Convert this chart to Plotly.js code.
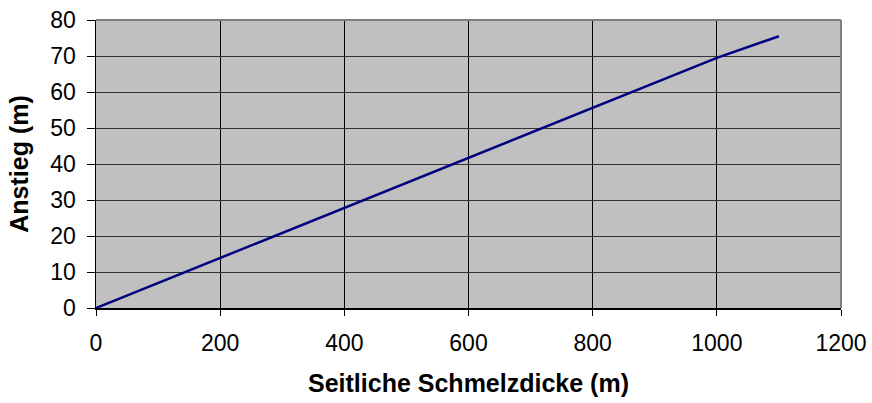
<!DOCTYPE html>
<html>
<head>
<meta charset="utf-8">
<script src="https://cdn.plot.ly/plotly-3.0.1.min.js"></script>
<style>
  html, body { margin: 0; padding: 0; background: #ffffff; }
  #chart { width: 872px; height: 403px; }
</style>
</head>
<body>
<div id="chart"></div>
<script>
// Lateral melt thickness (m) against rise (m)
const meltThickness = [0, 200, 400, 600, 800, 1000, 1100];
const rise = [0, 13.9, 27.9, 41.8, 55.6, 69.5, 75.5];

const xTickValues = [0, 200, 400, 600, 800, 1000, 1200];
const yTickValues = [0, 10, 20, 30, 40, 50, 60, 70, 80];

const font = 'Arial, "Liberation Sans", sans-serif';

const trace = {
  x: meltThickness,
  y: rise,
  type: 'scatter',
  mode: 'lines',
  line: { color: '#000080', width: 2.5 },
  hoverinfo: 'x+y'
};

const layout = {
  width: 872,
  height: 403,
  margin: { l: 96, r: 31, t: 20, b: 95 },
  paper_bgcolor: '#ffffff',
  plot_bgcolor: '#c0c0c0',
  showlegend: false,
  font: { family: font, color: '#000000', size: 23 },
  xaxis: {
    range: [0, 1200],
    tickvals: xTickValues,
    ticktext: xTickValues.map(String),
    ticks: 'outside',
    ticklen: 6,
    tickcolor: '#000000',
    tickwidth: 1,
    ticklabelstandoff: 8,
    showline: true,
    linecolor: '#000000',
    linewidth: 1.5,
    showgrid: true,
    gridcolor: '#000000',
    gridwidth: 1,
    zeroline: false,
    tickfont: { family: font, size: 23, color: '#000000' },
    title: {
      text: '<b>Seitliche Schmelzdicke (m)</b>',
      font: { family: font, size: 25, color: '#000000' },
      standoff: 19
    },
    automargin: false,
    fixedrange: true
  },
  yaxis: {
    range: [0, 80],
    tickvals: yTickValues,
    ticktext: yTickValues.map(String),
    ticks: 'outside',
    ticklen: 8,
    tickcolor: '#000000',
    tickwidth: 1,
    ticklabelstandoff: 6,
    showline: true,
    linecolor: '#000000',
    linewidth: 1.5,
    showgrid: true,
    gridcolor: '#333333',
    gridwidth: 1,
    zeroline: false,
    tickfont: { family: font, size: 23, color: '#000000' },
    title: {
      text: '<b>Anstieg (m)</b>',
      font: { family: font, size: 25, color: '#000000' },
      standoff: 14
    },
    automargin: false,
    fixedrange: true
  },
  shapes: [
    { type: 'line', xref: 'paper', yref: 'paper', x0: 0, x1: 1, y0: 1, y1: 1,
      line: { color: '#808080', width: 2 } },
    { type: 'line', xref: 'paper', yref: 'paper', x0: 1, x1: 1, y0: 0, y1: 1,
      line: { color: '#808080', width: 2 } }
  ]
};

Plotly.newPlot('chart', [trace], layout, { displayModeBar: false, staticPlot: true });
</script>
</body>
</html>
